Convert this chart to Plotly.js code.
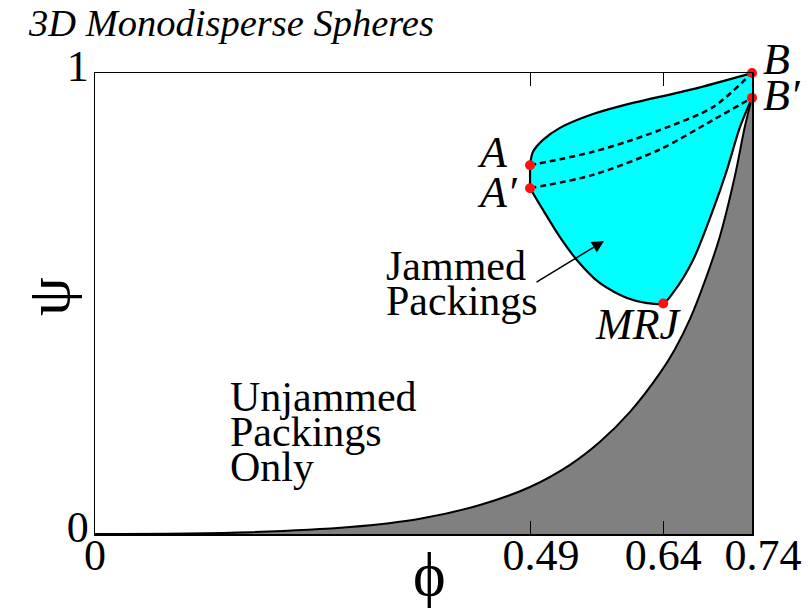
<!DOCTYPE html>
<html>
<head>
<meta charset="utf-8">
<script src="https://cdn.plot.ly/plotly-3.0.1.min.js"></script>
<style>html,body{margin:0;padding:0;background:#fff;}#chart{width:810px;height:608px;}</style>
</head>
<body>
<div id="chart"></div>
<script>
// ---- data ----
const phiTickVals = [0, 0.49, 0.64, 0.74];
const phiTickText = ['0', '\u00a0\u00a00.49', '0.64', '\u00a0\u00a00.74'];
const psiTickVals = [0, 1];
const psiTickText = ['0', '1'];

// boundary of unjammed-only region (gray)
const grayPhi = [0, 0.1746, 0.2872, 0.366, 0.4336, 0.49, 0.535, 0.5688, 0.6026, 0.6363, 0.6532, 0.6701, 0.687, 0.7039, 0.7208, 0.7321, 0.74];
const grayPsi = [0, 0.004, 0.015, 0.033, 0.063, 0.102, 0.150, 0.200, 0.265, 0.349, 0.401, 0.466, 0.549, 0.646, 0.777, 0.885, 0.946];

// jammed region: lower boundary A' -> MRJ -> B'
const lowerPhi = [0.49, 0.5046, 0.5237, 0.5429, 0.5688, 0.5992, 0.6217, 0.64, 0.651, 0.6735, 0.6961, 0.7118, 0.7265, 0.74];
const lowerPsi = [0.75, 0.703, 0.644, 0.594, 0.544, 0.512, 0.501, 0.50, 0.523, 0.594, 0.703, 0.79, 0.883, 0.946];
// jammed region: upper boundary A -> B
const upperPhi = [0.49, 0.4933, 0.5046, 0.5237, 0.5609, 0.5992, 0.6735, 0.74];
const upperPsi = [0.80, 0.829, 0.855, 0.881, 0.911, 0.932, 0.965, 1.0];

// dotted paths A -> B and A' -> B'
const dashAPhi = [0.49, 0.524, 0.561, 0.599, 0.636, 0.696, 0.74];
const dashAPsi = [0.80, 0.813, 0.829, 0.851, 0.876, 0.926, 1.0];
const dashA2Phi = [0.49, 0.561, 0.636, 0.696, 0.74];
const dashA2Psi = [0.75, 0.779, 0.834, 0.898, 0.946];

// special points
const ptNames = ['A', 'A\u2032', 'B', 'B\u2032', 'MRJ'];
const ptPhi = [0.49, 0.49, 0.74, 0.74, 0.64];
const ptPsi = [0.80, 0.75, 1.0, 0.946, 0.50];

// ---- plot ----
const W = 810, H = 608;
const M = {l: 95, r: 58, t: 73, b: 74};
const PW = W - M.l - M.r, PH = H - M.t - M.b;
const X0 = 0, X1 = 0.74, Y0 = 0, Y1 = 1;
// helpers: page pixel -> data coordinate (text placement only)
const px2x = p => X0 + (p - M.l) / PW * (X1 - X0);
const py2y = p => Y0 + (H - M.b - p) / PH * (Y1 - Y0);

const serif = 'Liberation Serif, Times New Roman, serif';

const traces = [
  {x: grayPhi, y: grayPsi, mode: 'lines', fill: 'tozeroy', fillcolor: '#808080',
   line: {color: '#000', width: 2, shape: 'spline', smoothing: 1}, hoverinfo: 'skip'},
  {x: lowerPhi, y: lowerPsi, mode: 'lines',
   line: {color: '#000', width: 2.2, shape: 'spline', smoothing: 0.8}, hoverinfo: 'skip'},
  {x: upperPhi, y: upperPsi, mode: 'lines', fill: 'tonexty', fillcolor: '#00FFFF',
   line: {color: '#000', width: 2.2, shape: 'spline', smoothing: 0.8}, hoverinfo: 'skip'},
  {x: [ptPhi[0], ptPhi[1]], y: [ptPsi[0], ptPsi[1]], mode: 'lines',
   line: {color: '#000', width: 2.2}, hoverinfo: 'skip'},
  {x: dashAPhi, y: dashAPsi, mode: 'lines',
   line: {color: '#000', width: 2.5, dash: '6px,4px', shape: 'spline', smoothing: 0.8}, hoverinfo: 'skip'},
  {x: dashA2Phi, y: dashA2Psi, mode: 'lines',
   line: {color: '#000', width: 2.5, dash: '6px,4px', shape: 'spline', smoothing: 0.8}, hoverinfo: 'skip'},
  {x: ptPhi, y: ptPsi, mode: 'markers', cliponaxis: false,
   marker: {color: '#FF1010', size: 10}, hoverinfo: 'skip'}
];

// label offsets (px) relative to each point
const ptLabelOffsets = [
  {xanchor: 'left', xshift: -55, yshift: 13},
  {xanchor: 'left', xshift: -55, yshift: -4},
  {xanchor: 'left', xshift: 9, yshift: 14},
  {xanchor: 'left', xshift: 9, yshift: 2},
  {xanchor: 'center', xshift: -25, yshift: -21}
];
const annotations = ptNames.map((n, i) => Object.assign({
  x: ptPhi[i], y: ptPsi[i], text: '<i>' + n + '</i>', showarrow: false,
  yanchor: 'middle', font: {family: serif, size: 44, color: '#000'}
}, ptLabelOffsets[i]));

const textLines = [
  {t: 'Jammed', x: 384, y: 266},
  {t: 'Packings', x: 384, y: 301},
  {t: 'Unjammed', x: 228, y: 397},
  {t: 'Packings', x: 228, y: 432},
  {t: 'Only', x: 228, y: 467}
];
textLines.forEach(o => annotations.push({
  x: px2x(o.x), y: py2y(o.y), text: o.t, showarrow: false, xanchor: 'left', yanchor: 'middle',
  font: {family: serif, size: 42, color: '#000'}
}));
// arrow pointing into the jammed region
annotations.push({
  x: px2x(604), y: py2y(241), text: '', showarrow: true, ax: -69, ay: 42,
  arrowhead: 2, arrowsize: 1.6, arrowwidth: 1.5, arrowcolor: '#000'
});
// axis titles (psi rotated on the left, phi below)
annotations.push({
  xref: 'paper', yref: 'paper', x: (48 - M.l) / PW, y: (H - M.b - 297) / PH,
  text: '\u03C8', textangle: -90, showarrow: false, xanchor: 'center', yanchor: 'middle',
  font: {family: serif, size: 62, color: '#000'}
});
annotations.push({
  xref: 'paper', yref: 'paper', x: (429 - M.l) / PW, y: (H - M.b - 574) / PH,
  text: '\u03D5', showarrow: false, xanchor: 'center', yanchor: 'middle',
  font: {family: serif, size: 62, color: '#000'}
});

const layout = {
  width: W, height: H, margin: M,
  paper_bgcolor: '#fff', plot_bgcolor: '#fff', showlegend: false,
  title: {text: '<i>3D Monodisperse Spheres</i>', xref: 'container', x: 29 / W, xanchor: 'left',
          yref: 'container', y: 1 - 23 / H, yanchor: 'middle',
          font: {family: serif, size: 38.5, color: '#000'}},
  xaxis: {range: [X0, X1], tickvals: phiTickVals, ticktext: phiTickText, tickangle: 0,
          ticks: 'inside', ticklen: 13, tickwidth: 1, tickcolor: '#000',
          showline: true, linecolor: '#000', linewidth: 1.5, mirror: 'ticks',
          showgrid: false, zeroline: false, fixedrange: true, ticklabelstandoff: -18,
          tickfont: {family: serif, size: 44, color: '#000'}},
  yaxis: {range: [Y0, Y1], tickvals: psiTickVals, ticktext: psiTickText,
          ticks: 'inside', ticklen: 13, tickwidth: 1, tickcolor: '#000',
          showline: true, linecolor: '#000', linewidth: 1.5, mirror: 'ticks',
          showgrid: false, zeroline: false, fixedrange: true, ticklabelshift: -7, ticklabelstandoff: -4,
          tickfont: {family: serif, size: 44, color: '#000'}},
  annotations: annotations
};

Plotly.newPlot('chart', traces, layout, {staticPlot: true, displayModeBar: false});
</script>
</body>
</html>
